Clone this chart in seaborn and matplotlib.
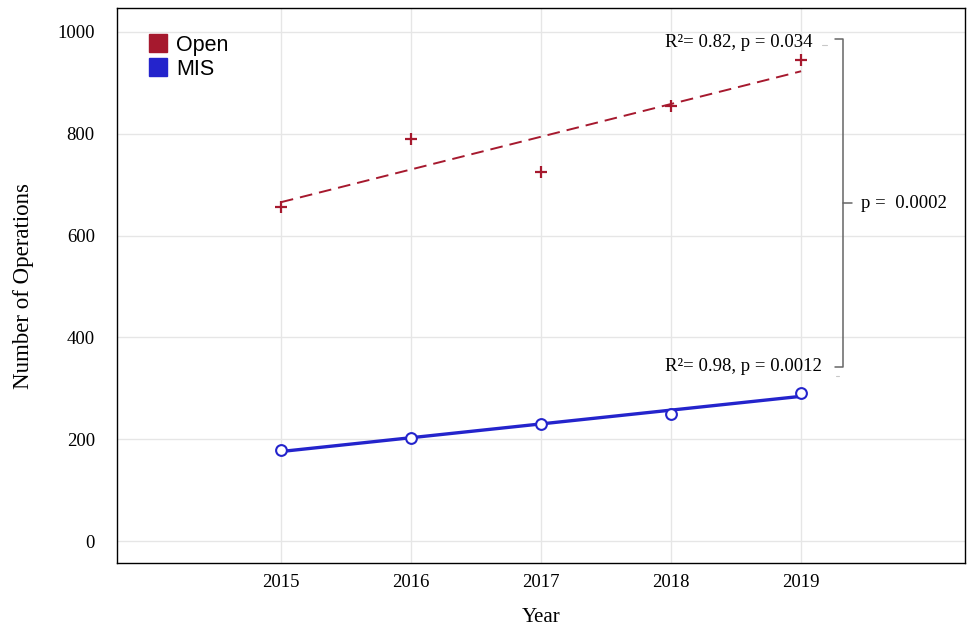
import numpy as np
import pandas as pd
import matplotlib
matplotlib.use("Agg")
import matplotlib.pyplot as plt
import seaborn as sns
from matplotlib.lines import Line2D

years = [2015, 2016, 2017, 2018, 2019]
open_ops = [656, 790, 725, 855, 945]
mis_ops = [179, 202, 230, 249, 291]
open_stats = "R²= 0.82, p = 0.034"
mis_stats = "R²= 0.98, p = 0.0012"
diff_stats = "p =  0.0002"

OPEN_C = "#A6192E"
MIS_C = "#2424CC"

sns.set_theme(style="whitegrid")
plt.rcParams["font.family"] = ["Liberation Serif", "DejaVu Serif"]
plt.rcParams["text.color"] = "black"
plt.rcParams["axes.labelcolor"] = "black"

df = pd.DataFrame({"Year": years * 2,
                   "Ops": open_ops + mis_ops,
                   "Group": ["Open"] * 5 + ["MIS"] * 5})

fig = plt.figure(figsize=(9.68, 6.30), dpi=100)
ax = fig.add_axes([0.1209, 0.1063, 0.8760, 0.8810])

d_open = df[df.Group == "Open"]
d_mis = df[df.Group == "MIS"]

sns.regplot(data=d_open, x="Year", y="Ops", ax=ax, ci=None, scatter=False,
            line_kws=dict(color=OPEN_C, lw=1.4, dashes=(6.5, 3.6)))
sns.regplot(data=d_mis, x="Year", y="Ops", ax=ax, ci=None, scatter=False,
            line_kws=dict(color=MIS_C, lw=2.4))
sns.scatterplot(data=d_open, x="Year", y="Ops", ax=ax, marker="+", s=80,
                color=OPEN_C, linewidth=1.6, zorder=5, legend=False)
sns.scatterplot(data=d_mis, x="Year", y="Ops", ax=ax, marker="o", s=60,
                facecolor="white", edgecolor=MIS_C, linewidth=1.5, zorder=5,
                legend=False)

ax.set_xlim(2013.74, 2020.26)
ax.set_ylim(-43, 1047)
ax.set_xticks(years)
ax.set_yticks([0, 200, 400, 600, 800, 1000])
ax.grid(True, color="#e6e6e6", lw=1.0)
for s in ax.spines.values():
    s.set_color("black")
    s.set_linewidth(1.0)
ax.tick_params(axis="both", direction="out", length=7, width=1.0,
               color="black", labelsize=13.5, labelcolor="black")
ax.tick_params(axis="y", pad=9)
ax.tick_params(axis="x", length=5, pad=3)
ax.set_xlabel("Year", fontsize=15, labelpad=12)
ax.set_ylabel("Number of Operations", fontsize=16.5, labelpad=17)

# Regression statistics
ax.text(2017.954, 980, open_stats, fontsize=13.5, ha="left", va="center")
ax.text(2017.954, 342, mis_stats, fontsize=13.5, ha="left", va="center")

# Bracket comparing the two slopes
bx = 2019.323
ytop, ybot = 986, 342
ax.plot([bx - 0.06, bx, bx, bx - 0.06], [ytop, ytop, ybot, ybot],
        color="#666666", lw=1.1, clip_on=False)
ymid = 664
ax.plot([bx, bx + 0.07], [ymid, ymid], color="#666666", lw=1.1)
ax.text(bx + 0.14, ymid, diff_stats, fontsize=13.5, ha="left", va="center")
ax.plot([2019.16, 2019.20], [975, 975], color="#c8c8c8", lw=0.8)
ax.plot([2019.27, 2019.29], [325, 325], color="#c8c8c8", lw=0.8)

handles = [Line2D([], [], marker="s", ls="", color=OPEN_C, markersize=13),
           Line2D([], [], marker="s", ls="", color=MIS_C, markersize=13)]
leg = ax.legend(handles, ["Open", "MIS"], loc="upper left",
                bbox_to_anchor=(0.010, 0.987), frameon=False,
                handletextpad=0.25, labelspacing=0.15, handlelength=1.2,
                prop={"family": "Liberation Sans", "size": 15.5})
for t in leg.get_texts():
    t.set_color("black")

fig.savefig("out.png", dpi=100, facecolor="white")
